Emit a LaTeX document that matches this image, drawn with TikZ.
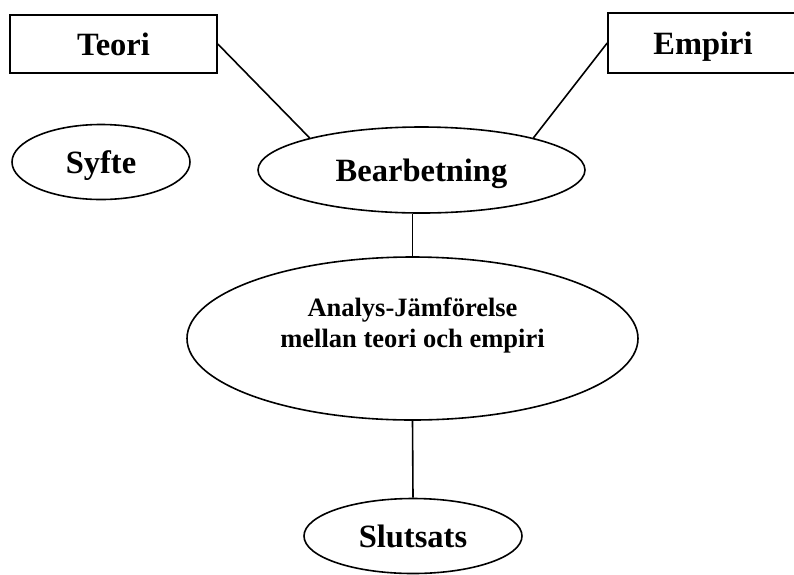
\documentclass[tikz,border=0pt]{standalone}
\usepackage{fontspec}
\setmainfont{Liberation Serif}
\usetikzlibrary{shapes.geometric}

\begin{document}
\begin{tikzpicture}[x=1pt, y=-1pt, line width=1.6pt,
    box/.style={draw, rectangle, inner sep=0pt, text height=22pt, text depth=0pt,
        font=\fontsize{32.5}{38}\selectfont\bfseries},
    oval/.style={draw, ellipse, inner sep=0pt, text height=22pt, text depth=0pt,
        font=\fontsize{32.5}{38}\selectfont\bfseries}]

    \useasboundingbox (0,0) rectangle (794,574);

    % Boxes at the top
    \node[box, minimum width=207pt, minimum height=58pt] (teori) at (113.5, 44) {Teori};
    \node[box, minimum width=190pt, minimum height=60pt] (empiri) at (703, 43) {Empiri};

    % Ellipses
    \node[oval, minimum width=178pt, minimum height=75pt] (syfte) at (101, 162) {Syfte};
    \node[oval, minimum width=327pt, minimum height=86pt] (bearb) at (421.5, 170) {Bearbetning};
    \node[draw, ellipse, inner sep=0pt, minimum width=451pt, minimum height=163pt, align=center,
        font=\fontsize{26.5}{31}\selectfont\bfseries] (analys) at (412.5, 338.5)
        {Analys-Jämförelse\\mellan teori och empiri\\~};
    \node[oval, minimum width=218pt, minimum height=75pt] (slutsats) at (413, 536) {Slutsats};

    % Connecting lines
    \draw (teori.east) -- (bearb.164);
    \draw (empiri.west) -- (bearb.16);
    \draw (analys.north) -- (analys.north |- bearb.south);
    \draw (analys.south) -- (slutsats.north);

\end{tikzpicture}
\end{document}
